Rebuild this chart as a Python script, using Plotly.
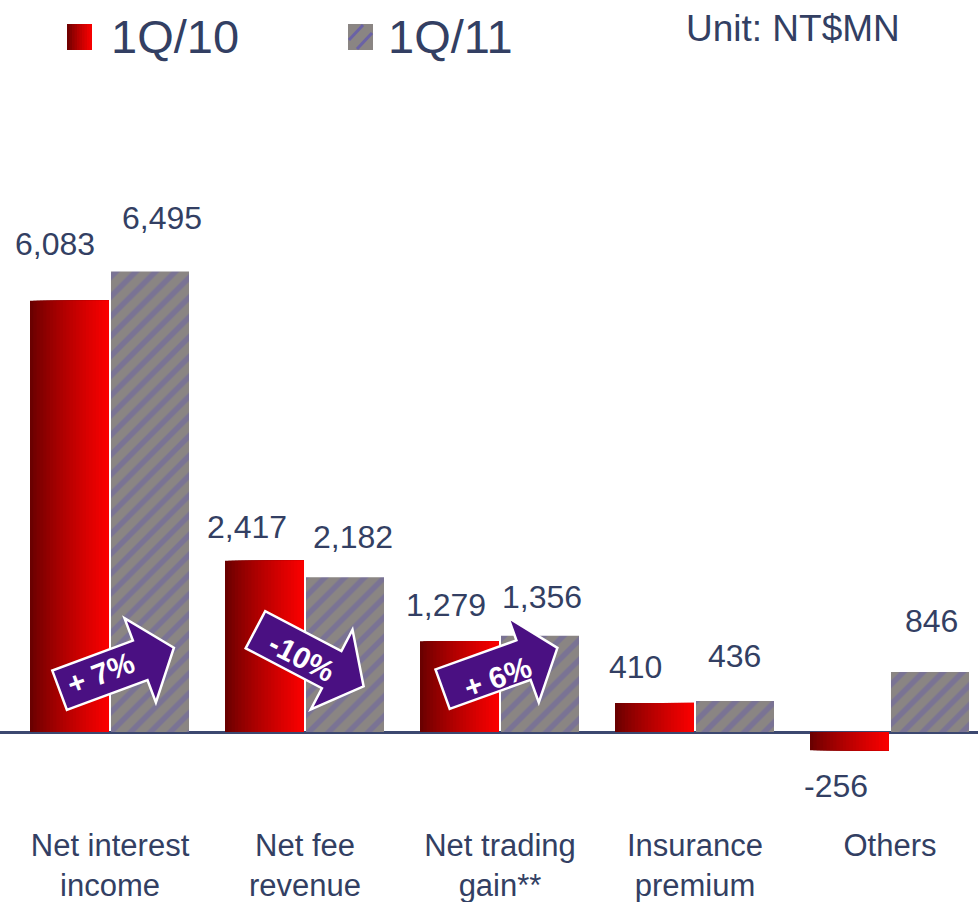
import math
import plotly.graph_objects as go

# ---------------- data ----------------
categories = ["Net interest<br>income", "Net fee<br>revenue", "Net trading<br>gain**",
              "Insurance<br>premium", "Others"]
series_names = ["1Q/10", "1Q/11"]
q1_10 = [6083, 2417, 1279, 410, -256]
q1_11 = [6495, 2182, 1356, 436, 846]
growth_labels = ["+ 7%", "-10%", "+ 6%"]
unit_text = "Unit: NT$MN"

# ---------------- style ----------------
FONT = "Liberation Sans, Arial, sans-serif"
TXT = "#333f63"
W, H = 978, 902
M_T, M_B = 150, 92
PLOT_TOP, PLOT_BOT = M_T, H - M_B
Y_RANGE = [-1100, 8209]
X_RANGE = [-0.5641, 4.4513]

# label offsets (px) relative to category centre / bar end
lab10_dx = [-55, -58, -54, -60, -54.5]
lab10_dy = [57, 34, 36, 36, -36]
lab11_dx = [51.5, 48, 41.5, 39, 41]
lab11_dy = [54, 40, 39, 45, 51]

# arrows: (dx, dy, angle) relative to category centre at y=0, text offsets
arrow_geom = [(6.75, 63, 20.4), (4.5, 74, -27.6), (0, 63.5, 19.8)]
arrow_text = [(-10, 59, -20.4), (-3, 75, 27.6), (-3, 55, -19.8)]

x_idx = list(range(len(categories)))

fig = go.Figure()

# red bars drawn as a horizontal gradient of overlapping layers
N = 24
red_start, red_width = -0.41026, 0.40513
c0, c1 = (100, 0, 0), (252, 0, 0)
sw = red_width / N
for i in range(N):
    t = ((i + 0.5) / N) ** 0.8
    col = tuple(int(c0[k] + (c1[k] - c0[k]) * t) for k in range(3))
    fig.add_trace(go.Bar(
        x=x_idx, y=q1_10, name=series_names[0],
        offset=red_start + i * sw, width=red_width - i * sw,
        marker=dict(color=f"rgb{col}", line=dict(width=0)),
        hoverinfo="skip", showlegend=False))

fig.add_trace(go.Bar(
    x=x_idx, y=q1_11, name=series_names[1],
    offset=0.00513, width=0.40,
    marker=dict(color="#8a8583", line=dict(width=0),
                pattern=dict(shape="/", fgcolor="#6a62a6", bgcolor="#8a8583",
                             size=14, solidity=0.4)),
    hoverinfo="skip", showlegend=False))

annotations = []
for i, v in enumerate(q1_10):
    annotations.append(dict(x=x_idx[i], y=v, xref="x", yref="y", text=f"{v:,}",
                            showarrow=False, xshift=lab10_dx[i], yshift=lab10_dy[i],
                            xanchor="center", yanchor="middle",
                            font=dict(family=FONT, size=32, color=TXT)))
for i, v in enumerate(q1_11):
    annotations.append(dict(x=x_idx[i], y=v, xref="x", yref="y", text=f"{v:,}",
                            showarrow=False, xshift=lab11_dx[i], yshift=lab11_dy[i],
                            xanchor="center", yanchor="middle",
                            font=dict(family=FONT, size=32, color=TXT)))

shapes = []


def arrow_path(cx, cy, ang, L=122, w=42, Hh=90, h=36):
    pts = [(-L / 2, -w / 2), (L / 2 - h, -w / 2), (L / 2 - h, -Hh / 2), (L / 2, 0),
           (L / 2 - h, Hh / 2), (L / 2 - h, w / 2), (-L / 2, w / 2)]
    a = math.radians(ang)
    c, s = math.cos(a), math.sin(a)
    out = []
    for px, py in pts:
        X = cx + px * c - py * s
        Y = cy + px * s + py * c
        out.append(f"{X:.1f},{Y:.1f}")
    return "M" + " L".join(out) + " Z"


for i, lab in enumerate(growth_labels):
    dx, dy, ang = arrow_geom[i]
    shapes.append(dict(type="path", xref="x", yref="y", xsizemode="pixel", ysizemode="pixel",
                       xanchor=x_idx[i], yanchor=0, path=arrow_path(dx, dy, ang),
                       fillcolor="#4a1082", line=dict(color="white", width=2.5), layer="above"))
    tdx, tdy, tang = arrow_text[i]
    annotations.append(dict(x=x_idx[i], y=0, xref="x", yref="y", text=f"<b>{lab}</b>",
                            showarrow=False, xshift=tdx, yshift=tdy, textangle=tang,
                            xanchor="center", yanchor="middle",
                            font=dict(family=FONT, size=30, color="white")))


def pxx(p):
    return p / W


def pxy(p):
    return (PLOT_BOT - p) / (PLOT_BOT - PLOT_TOP)


# legend (custom, large symbols)
LX0, LX1, LY0, LY1 = 67, 92, 24, 50
NL = 10
for i in range(NL):
    t = ((i + 0.5) / NL) ** 0.8
    col = tuple(int(c0[k] + (c1[k] - c0[k]) * t) for k in range(3))
    shapes.append(dict(type="rect", xref="paper", yref="paper",
                       x0=pxx(LX0 + (LX1 - LX0) * i / NL), x1=pxx(LX1),
                       y0=pxy(LY1), y1=pxy(LY0), fillcolor=f"rgb{col}", line=dict(width=0)))
GX0, GX1 = 348, 373
shapes.append(dict(type="rect", xref="paper", yref="paper", x0=pxx(GX0), x1=pxx(GX1),
                   y0=pxy(LY1), y1=pxy(LY0), fillcolor="#8a8583", line=dict(width=0)))
for (ax0, ay0, ax1, ay1) in [(GX0 + 1, 40, GX0 + 15, 25), (GX0 + 9, 49, GX1 - 1, 33)]:
    shapes.append(dict(type="line", xref="paper", yref="paper", x0=pxx(ax0), y0=pxy(ay0),
                       x1=pxx(ax1), y1=pxy(ay1), line=dict(color="#6a62a6", width=3)))

annotations.append(dict(x=pxx(109), y=pxy(36), xref="paper", yref="paper", text=series_names[0],
                        showarrow=False, xanchor="left", yanchor="middle",
                        font=dict(family=FONT, size=47, color=TXT)))
annotations.append(dict(x=pxx(386), y=pxy(36), xref="paper", yref="paper", text=series_names[1],
                        showarrow=False, xanchor="left", yanchor="middle",
                        font=dict(family=FONT, size=47, color=TXT)))
annotations.append(dict(x=pxx(684), y=pxy(29), xref="paper", yref="paper", text=unit_text,
                        showarrow=False, xanchor="left", yanchor="middle",
                        font=dict(family=FONT, size=37, color=TXT)))

fig.update_layout(
    width=W, height=H, autosize=False,
    margin=dict(l=0, r=0, t=M_T, b=M_B, pad=0),
    barmode="overlay",
    showlegend=False,
    plot_bgcolor="white", paper_bgcolor="white",
    shapes=shapes, annotations=annotations,
    xaxis=dict(range=X_RANGE, tickmode="array", tickvals=x_idx, ticktext=categories,
               showgrid=False, zeroline=False, showline=False, ticks="",
               ticklabelstandoff=14,
               tickfont=dict(family=FONT, size=31, color=TXT)),
    yaxis=dict(range=Y_RANGE, showgrid=False, showticklabels=False, ticks="",
               zeroline=True, zerolinecolor="#3c4870", zerolinewidth=2.5, showline=False),
)

fig.write_html("out.html", config={"displayModeBar": False},
               post_script="document.body.style.margin='0px';document.body.style.overflow='hidden';")
